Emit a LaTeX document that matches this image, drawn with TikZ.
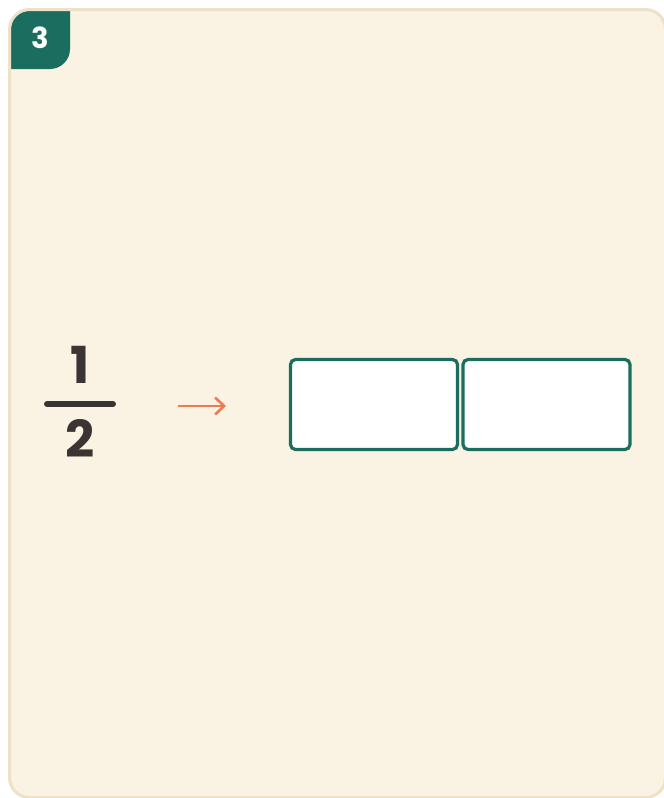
\documentclass[tikz,border=0pt]{standalone}
\usepackage{fontspec}
\setmainfont{Poppins}
\usetikzlibrary{arrows.meta}
\definecolor{cardbg}{HTML}{FAF2E3}
\definecolor{cardline}{HTML}{EDE2C8}
\definecolor{teal}{HTML}{1B6E5F}
\definecolor{ink}{HTML}{3A3532}
\definecolor{accent}{HTML}{F07A50}
\tikzset{
  partbox/.style={draw=teal, line width=3.2pt, fill=white, rounded corners=5pt,
    minimum width=167pt, minimum height=90pt, inner sep=0pt, outer sep=0pt},
  digit/.style={text=ink, font=\fontsize{51}{51}\selectfont\bfseries, inner sep=0pt, anchor=base},
  badgenum/.style={text=white, font=\fontsize{29}{29}\selectfont\bfseries, inner sep=0pt, anchor=base},
  pointer/.style={draw=accent, line width=2.6pt, -{Straight Barb[length=9pt,width=17pt,line width=2.6pt]}}
}
\begin{document}
\begin{tikzpicture}[x=1pt,y=-1pt]
\useasboundingbox (0,0) rectangle (664,798);
% card
\fill[cardbg, rounded corners=20pt] (9.5,9.5) rectangle (665.5,797.5);
\begin{scope}
  \clip[rounded corners=18pt] (11,11) rectangle (664,796);
  \fill[teal, rounded corners=20pt] (-60,-60) rectangle (70,69);
\end{scope}
\draw[cardline, line width=3pt, rounded corners=20pt] (9.5,9.5) rectangle (665.5,797.5);
\node[badgenum] (badge) at (40,48) {3};
% fraction
\node[digit] (num) at (80,383) {1};
\node[digit] (den) at (80,457) {2};
\draw[ink, line width=6pt, line cap=round] (47,404) -- (113,404);
% arrow
\coordinate (arrowstart) at (178,406);
\coordinate (arrowend) at (226,406);
\draw[pointer] (arrowstart) -- (arrowend);
% boxes
\node[partbox] (boxA) at (374,404.5) {};
\node[partbox] (boxB) at (546.5,404.5) {};
\end{tikzpicture}
\end{document}
